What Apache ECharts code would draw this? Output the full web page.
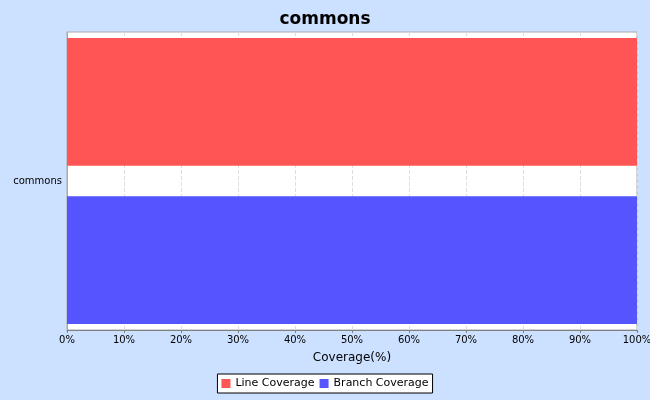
<!DOCTYPE html>
<html><head><meta charset="utf-8">
<script src="https://cdn.jsdelivr.net/npm/echarts@6/dist/echarts.min.js"></script>
<style>html,body{margin:0;padding:0;background:#cce0ff}#c{width:650px;height:400px}</style>
</head><body><div id="c"></div>
<script>
const categories = ["commons"];
const seriesNames = ["Line Coverage", "Branch Coverage"];
const lineCoverage = [100];
const branchCoverage = [100];
const tickFormat = "{value}%";

const chart = echarts.init(document.getElementById('c'), null, {renderer: 'canvas'});
const font = "DejaVu Sans";
chart.setOption({
  backgroundColor: '#cce0ff',
  animation: false,
  textStyle: {fontFamily: font},
  title: {text: 'commons', left: 'center', top: 6,
    textStyle: {fontFamily: font, fontSize: 17, fontWeight: 'bold', color: '#000'}},
  legend: {
    data: seriesNames, bottom: 7, left: 'center',
    backgroundColor: '#fff', borderColor: '#000', borderWidth: 1,
    padding: [4, 4, 4, 4], itemGap: 5, itemWidth: 9, itemHeight: 9,
    icon: 'rect',
    textStyle: {fontFamily: font, fontSize: 11, color: '#000'}
  },
  grid: {left: 67, right: 13, top: 32, bottom: 70, show: true,
    backgroundColor: '#fff', borderColor: '#aaa', borderWidth: 1, containLabel: false,
    outerBoundsMode: 'none'},
  xAxis: {
    type: 'value', min: 0, max: 100, interval: 10,
    name: 'Coverage(%)', nameLocation: 'middle', nameGap: 22,
    nameTextStyle: {fontFamily: font, fontSize: 12, color: '#000'},
    axisLine: {show: true, lineStyle: {color: '#808080'}},
    axisTick: {show: true, length: 3, lineStyle: {color: '#808080'}},
    axisLabel: {formatter: tickFormat, fontFamily: font, fontSize: 10, color: '#000', margin: 5},
    splitLine: {show: true, lineStyle: {color: '#ddd', type: 'dashed'}}
  },
  yAxis: {
    type: 'category', data: categories, inverse: true,
    axisLine: {show: true, lineStyle: {color: '#aaa'}},
    axisTick: {show: false},
    axisLabel: {fontFamily: font, fontSize: 10, color: '#000', margin: 5}
  },
  series: [
    {name: seriesNames[0], type: 'bar', data: lineCoverage, itemStyle: {color: '#ff5555'},
      barCategoryGap: '4%', barGap: '24%'},
    {name: seriesNames[1], type: 'bar', data: branchCoverage, itemStyle: {color: '#5555ff'},
      barCategoryGap: '4%', barGap: '24%'}
  ]
});
</script></body></html>
